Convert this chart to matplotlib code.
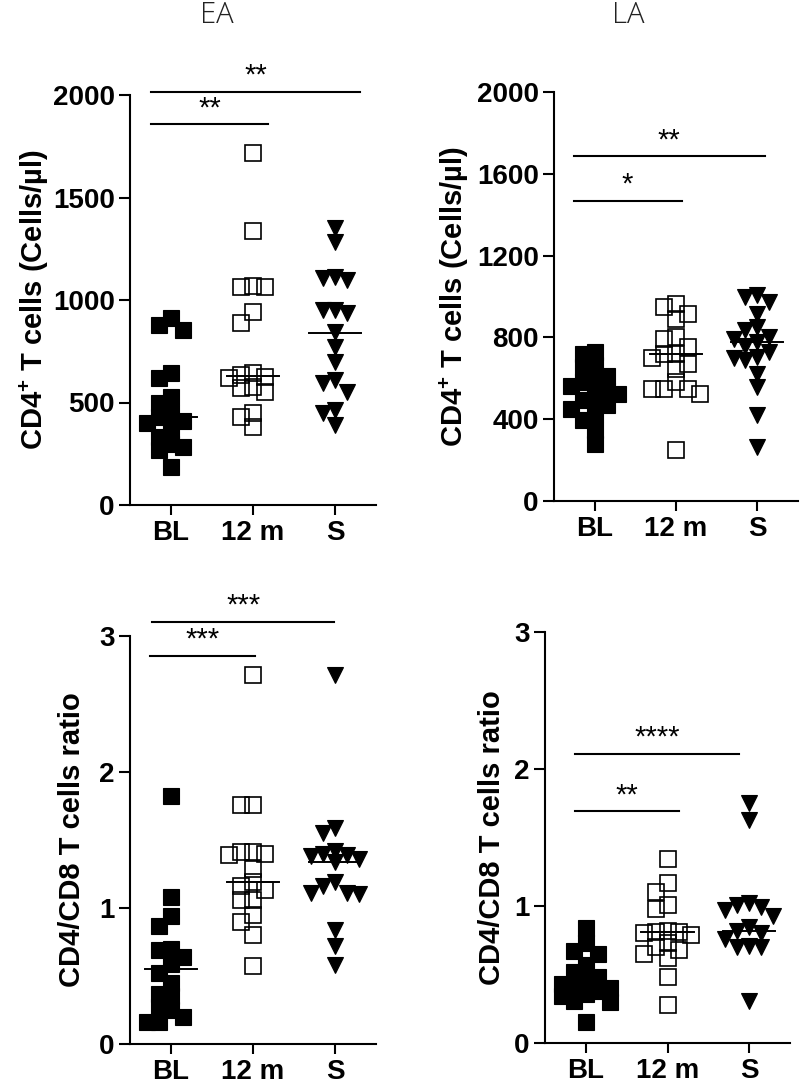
import numpy as np
import matplotlib
matplotlib.use("Agg")
import matplotlib.pyplot as plt

plt.rcParams['font.family'] = ['Liberation Sans', 'DejaVu Sans']
plt.rcParams['mathtext.fontset'] = 'custom'
plt.rcParams['mathtext.rm'] = 'Liberation Sans:bold'
plt.rcParams['mathtext.it'] = 'Liberation Sans:bold'
plt.rcParams['mathtext.bf'] = 'Liberation Sans:bold'

# ---- data ----
groups = ["BL", "12 m", "S"]

# CD4+ T cells (cells/ul), early ART (EA)
ea_cd4_bl = [910, 878, 854, 642, 618, 528, 496, 447, 431, 410, 398, 366, 333, 300, 285, 268, 187]
ea_cd4_12m = [1715, 1338, 1070, 1062, 1062, 940, 889, 642, 634, 626, 618, 577, 569, 553, 450, 428, 382]
ea_cd4_s = [1350, 1285, 1114, 1106, 1098, 951, 951, 938, 846, 772, 699, 610, 593, 553, 463, 447, 390]
ea_cd4_median = [428, 631, 841]

# CD4+ T cells (cells/ul), late ART (LA)
la_cd4_bl = [729, 720, 663, 655, 610, 582, 582, 560, 540, 525, 510, 492, 468, 450, 427, 394, 345, 280]
la_cd4_12m = [965, 949, 916, 892, 802, 794, 753, 720, 720, 700, 672, 647, 580, 549, 549, 549, 525, 248]
la_cd4_s = [1006, 998, 973, 916, 851, 834, 802, 790, 778, 760, 729, 704, 700, 688, 623, 557, 419, 264]
la_cd4_median = [528, 720, 778]

# CD4/CD8 ratio, EA
ea_ratio_bl = [1.82, 1.08, 0.94, 0.87, 0.70, 0.69, 0.64, 0.59, 0.52, 0.45, 0.37, 0.35, 0.27, 0.25, 0.20, 0.16, 0.16]
ea_ratio_12m = [2.71, 1.76, 1.76, 1.41, 1.41, 1.40, 1.39, 1.29, 1.19, 1.16, 1.13, 1.06, 1.06, 0.95, 0.90, 0.80, 0.57]
ea_ratio_s = [2.71, 1.59, 1.55, 1.42, 1.40, 1.39, 1.38, 1.36, 1.34, 1.19, 1.16, 1.11, 1.11, 1.10, 0.84, 0.72, 0.58]
ea_ratio_median = [0.55, 1.19, 1.34]

# CD4/CD8 ratio, LA
la_ratio_bl = [0.84, 0.73, 0.67, 0.65, 0.57, 0.52, 0.48, 0.45, 0.43, 0.42, 0.40, 0.38, 0.36, 0.34, 0.31, 0.30, 0.15]
la_ratio_12m = [1.34, 1.17, 1.10, 1.01, 0.98, 0.82, 0.81, 0.81, 0.80, 0.79, 0.73, 0.70, 0.68, 0.65, 0.62, 0.48, 0.28]
la_ratio_s = [1.75, 1.63, 1.02, 1.01, 0.99, 0.97, 0.93, 0.85, 0.82, 0.80, 0.76, 0.71, 0.70, 0.70, 0.31]
la_ratio_median = [0.43, 0.81, 0.82]

# significance brackets: (from, to, y, label)
ea_cd4_sig = [(-0.24, 2.30, 2015, "**"), (-0.24, 1.18, 1858, "**")]
la_cd4_sig = [(-0.26, 2.09, 1685, "**"), (-0.26, 1.07, 1467, "*")]
ea_ratio_sig = [(-0.23, 1.99, 3.105, "***"), (-0.26, 1.02, 2.855, "***")]
la_ratio_sig = [(-0.135, 1.88, 2.11, "****"), (-0.135, 1.14, 1.69, "**")]

cd4_ticks_ea = [0, 500, 1000, 1500, 2000]
cd4_ticks_la = [0, 400, 800, 1200, 1600, 2000]
ratio_ticks = [0, 1, 2, 3]

W, H = 800, 1085
fig = plt.figure(figsize=(W / 100, H / 100), dpi=100)


def make_axes(left, top, right, bottom):
    return fig.add_axes([left / W, 1 - bottom / H, (right - left) / W, (bottom - top) / H])


def swarm_offsets(values, px_per_unit, step=0.146, thr=13.0):
    # simple column scatter: put each point in the first free column
    order = np.argsort(values)[::-1]
    cols = [0, -1, 1, -2, 2]
    placed = []
    offs = np.zeros(len(values))
    for i in order:
        y = values[i] * px_per_unit
        best, best_d = None, -1
        for c in cols:
            ds = [abs(y - yp) for (cc, yp) in placed if cc == c]
            d = min(ds) if ds else 1e9
            if d >= thr:
                best = c
                break
            if d > best_d:
                best, best_d = c, d
        placed.append((best, y))
        offs[i] = best * step
    return offs


def panel(ax, series, medians, sigs, ymax, yticks, ylabel, label_x):
    ax.set_xlim(-0.5, 2.5)
    ax.set_ylim(0, ymax)
    bbox = ax.get_position()
    ppu = bbox.height * H / ymax
    styles = [dict(marker='s', mfc='black', mec='black', mew=0.8),
              dict(marker='s', mfc='none', mec='black', mew=1.2),
              dict(marker='v', mfc='black', mec='black', mew=0.8)]
    for k, vals in enumerate(series):
        vals = np.asarray(vals, dtype=float)
        xs = k + swarm_offsets(vals, ppu)
        ax.plot(xs, vals, linestyle='none', ms=11.5, clip_on=False, **styles[k])
        ax.plot([k - 0.32, k + 0.32], [medians[k], medians[k]], color='black', lw=1.4, zorder=5)
    for x0, x1, y, lab in sigs:
        ax.plot([x0, x1], [y, y], color='black', lw=1.5, clip_on=False)
        ax.annotate(lab, xy=((x0 + x1) / 2, y), xytext=(0, 11.5), textcoords='offset points',
                    ha='center', va='center', fontsize=21, fontweight='normal',
                    annotation_clip=False)
    ax.spines['top'].set_visible(False)
    ax.spines['right'].set_visible(False)
    ax.spines['left'].set_linewidth(1.5)
    ax.spines['bottom'].set_linewidth(1.5)
    ax.set_yticks(yticks)
    ax.set_xticks(range(len(groups)))
    ax.set_xticklabels(groups)
    ax.tick_params(axis='y', length=8, width=1.5, labelsize=20, pad=3)
    ax.tick_params(axis='x', length=7, width=1.5, labelsize=20, pad=4)
    for t in ax.get_xticklabels() + ax.get_yticklabels():
        t.set_fontweight('bold')
    ax.text(label_x, 0.5, ylabel, transform=ax.transAxes, rotation=90,
            ha='center', va='center', fontsize=21, fontweight='bold')


ax1 = make_axes(130, 95, 376, 505)
ax2 = make_axes(554, 92, 798, 501)
ax3 = make_axes(130, 636, 376, 1044)
ax4 = make_axes(545, 632, 790, 1043)

cd4_label = r"CD4$^{+}$ T cells (Cells/µl)"
ratio_label = "CD4/CD8 T cells ratio"

panel(ax1, [ea_cd4_bl, ea_cd4_12m, ea_cd4_s], ea_cd4_median, ea_cd4_sig,
      2000, cd4_ticks_ea, cd4_label, -0.39)
panel(ax2, [la_cd4_bl, la_cd4_12m, la_cd4_s], la_cd4_median, la_cd4_sig,
      2000, cd4_ticks_la, cd4_label, -0.41)
panel(ax3, [ea_ratio_bl, ea_ratio_12m, ea_ratio_s], ea_ratio_median, ea_ratio_sig,
      3, ratio_ticks, ratio_label, -0.236)
panel(ax4, [la_ratio_bl, la_ratio_12m, la_ratio_s], la_ratio_median, la_ratio_sig,
      3, ratio_ticks, ratio_label, -0.216)

fig.text(217 / W, 1 - 23 / H, "EA", ha='center', va='baseline', fontsize=21,
         family=['Open Sans', 'DejaVu Sans'], fontweight='light', color='#222222')
fig.text(628 / W, 1 - 23 / H, "LA", ha='center', va='baseline', fontsize=21,
         family=['Open Sans', 'DejaVu Sans'], fontweight='light', color='#222222')

fig.savefig("out.png", dpi=100)
